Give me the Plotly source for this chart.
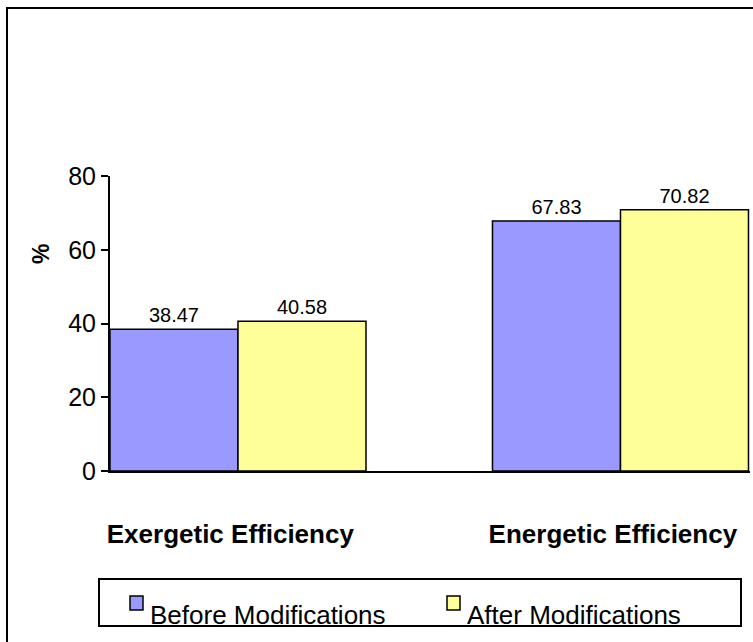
import plotly.graph_objects as go

categories = ["Exergetic Efficiency", "Energetic Efficiency"]
series_names = ["Before Modifications", "After Modifications"]
before_values = [38.47, 67.83]
after_values = [40.58, 70.82]
y_tick_values = [0, 20, 40, 60, 80]
colors = ["#9999FF", "#FFFF99"]

W, H = 753, 642
L, R, T, B = 110, 3, 176, 171
PW, PH = W - L - R, H - T - B
FONT = "Liberation Sans, Arial, sans-serif"
LABEL_SHIFT = -0.02  # category labels sit slightly left of the bar groups


def px(x):
    return (x - L) / PW


def py(y):
    return (H - B - y) / PH


fig = go.Figure()
for name, vals, col in zip(series_names, [before_values, after_values], colors):
    fig.add_trace(go.Bar(
        x=categories, y=vals, name=name,
        marker=dict(color=col, line=dict(color="black", width=1.5)),
        texttemplate="%{y:.2f}", textposition="outside",
        textfont=dict(family=FONT, size=20, color="black"),
        cliponaxis=False, showlegend=False,
    ))

fig.update_layout(
    width=W, height=H,
    margin=dict(l=L, r=R, t=T, b=B, pad=0),
    paper_bgcolor="white", plot_bgcolor="white",
    barmode="group", bargap=0.3307, bargroupgap=0,
    font=dict(family=FONT, color="black"),
    xaxis=dict(
        type="category", range=[-0.3346, 1.3386],
        tickmode="array",
        tickvals=[i + LABEL_SHIFT for i in range(len(categories))],
        ticktext=categories,
        showline=True, linecolor="black", linewidth=2,
        ticks="", showgrid=False, zeroline=False,
        tickfont=dict(family=FONT, size=26, color="black", weight="bold"),
        ticklabelstandoff=39,
    ),
    yaxis=dict(
        range=[0, 80], tickvals=y_tick_values,
        showline=True, linecolor="black", linewidth=2,
        ticks="outside", ticklen=7, tickwidth=2, tickcolor="black",
        showgrid=False, zeroline=False,
        tickfont=dict(family=FONT, size=25, color="black"),
    ),
)

# y-axis title
fig.add_annotation(text="<b>%</b>", x=px(26), y=py(242), xref="paper", yref="paper",
                   textangle=-90, showarrow=False,
                   font=dict(family=FONT, size=23, color="black"))

# outer chart frame
fig.add_shape(type="rect", xref="paper", yref="paper",
              x0=px(7), y0=py(8), x1=px(762), y1=py(652),
              line=dict(color="black", width=2))

# legend box
fig.add_shape(type="rect", xref="paper", yref="paper",
              x0=px(99), y0=py(579), x1=px(741), y1=py(626),
              line=dict(color="black", width=2), fillcolor="rgba(0,0,0,0)")
legend_x = [130, 447]
for name, col, lx in zip(series_names, colors, legend_x):
    fig.add_shape(type="rect", xref="paper", yref="paper",
                  x0=px(lx), y0=py(596), x1=px(lx + 13), y1=py(610),
                  line=dict(color="black", width=1.5), fillcolor=col)
    fig.add_annotation(text=name, x=px(lx + 18), y=py(615), xref="paper", yref="paper",
                       xanchor="left", yanchor="middle", showarrow=False,
                       font=dict(family=FONT, size=26, color="black"))

fig.write_html("out.html", config={"displayModeBar": False},
               post_script="document.body.style.margin='0';document.body.style.overflow='hidden';")
